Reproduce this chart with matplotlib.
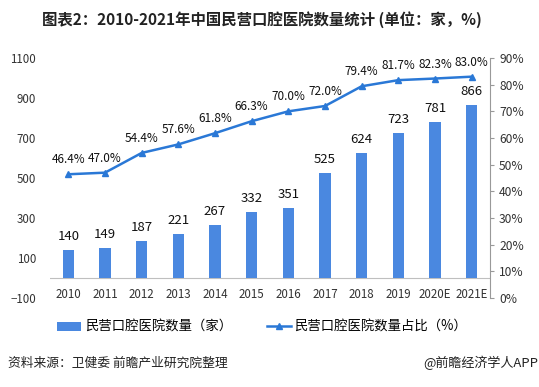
import matplotlib
matplotlib.use('Agg')
import matplotlib.pyplot as plt
import matplotlib.ticker as tkr

plt.rcParams['font.family'] = ['Noto Sans CJK SC', 'DejaVu Sans']

years = ['2010', '2011', '2012', '2013', '2014', '2015', '2016', '2017', '2018', '2019', '2020E', '2021E']
counts = [140, 149, 187, 221, 267, 332, 351, 525, 624, 723, 781, 866]
shares = [46.4, 47.0, 54.4, 57.6, 61.8, 66.3, 70.0, 72.0, 79.4, 81.7, 82.3, 83.0]

barColor = '#4a88e0'
lineColor = '#2a78d6'
textColor = '#333333'

fig = plt.figure(figsize=(5.39, 3.87), dpi=100)
ax = fig.add_axes([50/539, 1-298/387, 440/539, 240/387])
ax2 = ax.twinx()

x = range(len(years))
ax.bar(x, counts, width=0.31, color=barColor, zorder=2, label='民营口腔医院数量（家）')
ax.axhline(0, color='#bfbfbf', lw=0.8, zorder=1)
for i, v in zip(x, counts):
    ax.text(i, v + 35, str(v), ha='center', va='bottom', fontsize=9.5, color='#111111')
for i, y in zip(x, years):
    ax.text(i, -85, y, ha='center', va='center', fontsize=8.3, color=textColor)

ax.set_xlim(-0.5, len(years) - 0.5)
ax.set_ylim(-100, 1100)
ax.set_yticks(range(-100, 1101, 200))
ax.set_xticks([])
ax.tick_params(axis='y', length=0, labelsize=8.3, labelcolor=textColor, pad=10)
for s in ['top', 'left', 'bottom', 'right']:
    ax.spines[s].set_visible(False)

ax2.plot(x, shares, color=lineColor, lw=1.8, marker='^', markersize=5, zorder=3,
         label='民营口腔医院数量占比（%）')
for i, v in zip(x, shares):
    ax2.text(i, v + 3, '%.1f%%' % v, ha='center', va='bottom', fontsize=8.5, color='#111111')
ax2.set_ylim(0, 90)
ax2.set_yticks(range(0, 91, 10))
ax2.yaxis.set_major_formatter(tkr.FuncFormatter(lambda v, p: '%d%%' % v))
ax2.tick_params(axis='y', length=3, color='#999999', labelsize=8.7, labelcolor=textColor)
for s in ['top', 'left', 'bottom']:
    ax2.spines[s].set_visible(False)
ax2.spines['right'].set_color('#999999')

h1, l1 = ax.get_legend_handles_labels()
h2, l2 = ax2.get_legend_handles_labels()
fig.legend(h1 + h2, l1 + l2, loc='center', bbox_to_anchor=(262/539, 1-327/387), ncol=2,
           frameon=False, fontsize=9.6, handlelength=1.8, columnspacing=2.6, handletextpad=0.3)

fig.text(262/539, 1-20/387, '图表2：2010-2021年中国民营口腔医院数量统计 (单位：家，%)', ha='center', va='center',
         fontsize=11.1, fontweight='bold', color='#222222')
fig.text(8/539, 1-363/387, '资料来源：卫健委 前瞻产业研究院整理', ha='left', va='center', fontsize=9.2, color='#222222')
fig.text(538/539, 1-363/387, '@前瞻经济学人APP', ha='right', va='center', fontsize=9.4, color='#222222')

fig.savefig('out.png', dpi=100)
